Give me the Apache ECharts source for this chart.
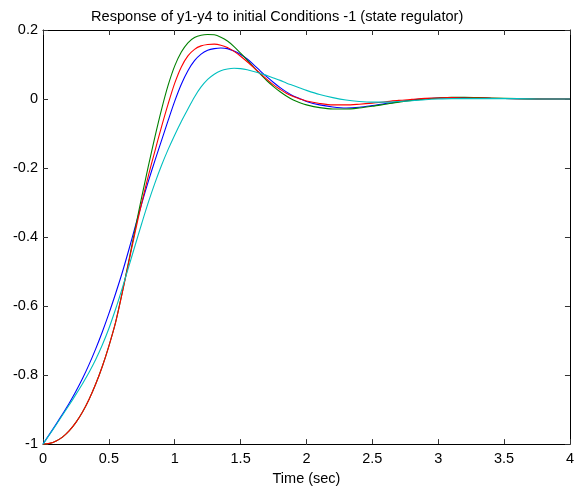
<!DOCTYPE html>
<html>
<head>
<meta charset="utf-8">
<script src="https://cdn.jsdelivr.net/npm/echarts@6/dist/echarts.min.js"></script>
<style>
html,body{margin:0;padding:0;background:#fff;}
#chart{width:577px;height:491px;}
</style>
</head>
<body>
<div id="chart"></div>
<script>
var timeValues = [0,0.05,0.1,0.15,0.2,0.25,0.3,0.35,0.4,0.45,0.5,0.55,0.6,0.65,0.7,0.75,0.8,0.85,0.9,0.95,
  1.0,1.05,1.1,1.15,1.2,1.25,1.3,1.35,1.4,1.45,1.5,1.55,1.6,1.65,1.7,1.75,1.8,1.85,1.9,1.95,
  2.0,2.1,2.2,2.3,2.4,2.5,2.6,2.7,2.8,2.9,3.0,3.1,3.2,3.3,3.4,3.6,3.8,4.0];

var y1Blue = [-1,-0.971,-0.942,-0.912,-0.881,-0.847,-0.81,-0.769,-0.724,-0.675,-0.622,-0.565,-0.505,-0.439,-0.37,-0.302,-0.238,-0.178,-0.12,-0.062,
  -0.006,0.043,0.082,0.111,0.13,0.141,0.146,0.148,0.146,0.139,0.129,0.116,0.099,0.081,0.064,0.048,0.033,0.02,0.009,0.001,
  -0.007,-0.017,-0.023,-0.026,-0.024,-0.019,-0.013,-0.008,-0.003,0.001,0.003,0.004,0.004,0.003,0.002,0.001,0,0];

var y2Green = [-1,-0.998,-0.991,-0.979,-0.961,-0.937,-0.907,-0.87,-0.826,-0.775,-0.716,-0.649,-0.563,-0.471,-0.376,-0.283,-0.194,-0.109,-0.03,0.04,
  0.096,0.136,0.163,0.178,0.185,0.187,0.186,0.179,0.168,0.152,0.133,0.113,0.092,0.072,0.053,0.036,0.021,0.008,-0.003,-0.011,
  -0.017,-0.025,-0.029,-0.029,-0.026,-0.021,-0.015,-0.009,-0.004,0,0.003,0.005,0.005,0.004,0.003,0.001,0,0];

var y3Red = [-1,-0.998,-0.991,-0.979,-0.961,-0.937,-0.907,-0.87,-0.826,-0.775,-0.716,-0.649,-0.565,-0.475,-0.385,-0.3,-0.222,-0.15,-0.08,-0.014,
  0.046,0.093,0.125,0.144,0.154,0.158,0.159,0.156,0.149,0.138,0.124,0.108,0.091,0.074,0.057,0.041,0.028,0.016,0.007,0,
  -0.006,-0.013,-0.017,-0.017,-0.015,-0.012,-0.008,-0.004,-0.001,0.002,0.003,0.004,0.003,0.003,0.002,0.001,0,0];

var y4Cyan = [-1,-0.972,-0.944,-0.915,-0.886,-0.856,-0.825,-0.792,-0.755,-0.713,-0.665,-0.61,-0.55,-0.487,-0.423,-0.36,-0.299,-0.243,-0.192,-0.146,
  -0.104,-0.065,-0.029,0.006,0.035,0.057,0.072,0.082,0.087,0.089,0.088,0.085,0.08,0.074,0.068,0.061,0.054,0.046,0.039,0.032,
  0.025,0.013,0.004,-0.003,-0.007,-0.009,-0.009,-0.007,-0.005,-0.002,0,0.001,0.001,0.001,0.001,0.001,0,0];

var titleText = 'Response of y1-y4 to initial Conditions -1 (state regulator)';
var xAxisName = 'Time (sec)';

function pairs(vals){ return timeValues.map(function(t,i){ return [t, vals[i]]; }); }

var chart = echarts.init(document.getElementById('chart'), null, {renderer:'canvas'});
var font = 'Liberation Sans, Arial, Helvetica, sans-serif';
var axisCommon = {
  axisLine:{show:true, onZero:false, lineStyle:{color:'#000', width:1}},
  axisTick:{show:true, inside:true, length:5, lineStyle:{color:'#333', width:1}},
  splitLine:{show:false}
};
function lineSeries(name, vals, color){
  return {name:name, type:'line', data:pairs(vals), showSymbol:false, symbol:'none',
    smooth:0.3, lineStyle:{color:color, width:1.1}, itemStyle:{color:color}, animation:false, clip:true};
}
chart.setOption({
  animation:false,
  backgroundColor:'#fff',
  title:{text:titleText, left:86, top:4, textStyle:{fontFamily:font, fontSize:14.6, fontWeight:'normal', color:'#000'}},
  grid:{left:43, right:6, top:30, bottom:45, containLabel:false},
  xAxis:[
    Object.assign({type:'value', position:'bottom', min:0, max:4, interval:0.5,
      name:xAxisName, nameLocation:'middle', nameGap:25,
      nameTextStyle:{fontFamily:font, fontSize:14.5, color:'#000'},
      axisLabel:{show:true, margin:7, fontFamily:font, fontSize:14.5, color:'#000'}}, axisCommon),
    Object.assign({type:'value', position:'top', min:0, max:4, interval:0.5, axisLabel:{show:false}}, axisCommon)
  ],
  yAxis:[
    Object.assign({type:'value', position:'left', min:-1, max:0.2, interval:0.2,
      axisLabel:{show:true, margin:5, fontFamily:font, fontSize:14.5, color:'#000'}}, axisCommon),
    Object.assign({type:'value', position:'right', min:-1, max:0.2, interval:0.2, axisLabel:{show:false}}, axisCommon)
  ],
  series:[
    lineSeries('y1', y1Blue, '#0000ff'),
    lineSeries('y2', y2Green, '#008000'),
    lineSeries('y3', y3Red, '#ff0000'),
    lineSeries('y4', y4Cyan, '#00bfbf')
  ]
});
</script>
</body>
</html>
